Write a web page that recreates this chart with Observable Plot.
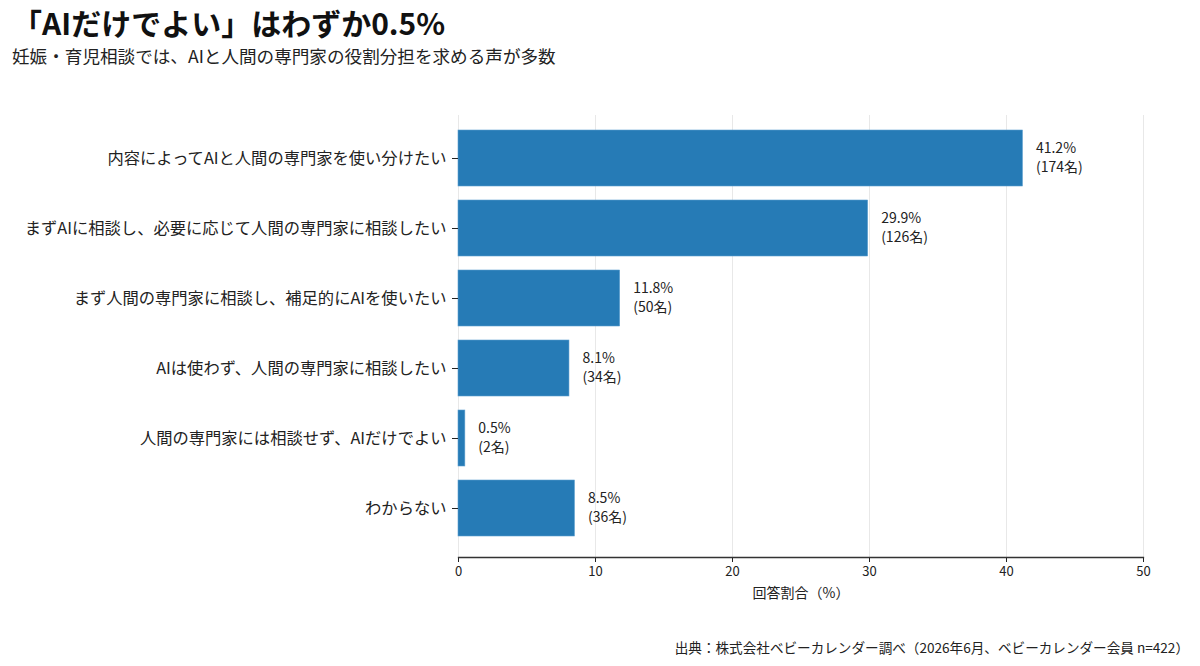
<!DOCTYPE html>
<html><head><meta charset="utf-8">
<script src="https://cdn.jsdelivr.net/npm/d3@7"></script>
<script src="https://cdn.jsdelivr.net/npm/@observablehq/plot@0.6"></script>
<style>
body{margin:0;background:#fff;font-family:"Noto Sans CJK JP","Noto Sans",sans-serif;color:#111;}
#wrap{position:relative;width:1200px;height:666px;}
#title{position:absolute;left:12px;top:1px;font-size:30px;font-weight:700;line-height:42px;}
#sub{position:absolute;left:12px;top:43px;font-size:17.6px;line-height:26px;color:#222;}
#chart{position:absolute;left:0;top:80px;}
#cap{position:absolute;right:11px;top:637px;font-size:13.6px;line-height:20px;color:#222;}
</style></head>
<body><div id="wrap">
<div id="title">「AIだけでよい」はわずか0.5%</div>
<div id="sub">妊娠・育児相談では、AIと人間の専門家の役割分担を求める声が多数</div>
<div id="chart"></div>
<div id="cap">出典：株式会社ベビーカレンダー調べ（2026年6月、ベビーカレンダー会員 n=422）</div>
</div>
<script>
const categories = [
  "内容によってAIと人間の専門家を使い分けたい",
  "まずAIに相談し、必要に応じて人間の専門家に相談したい",
  "まず人間の専門家に相談し、補足的にAIを使いたい",
  "AIは使わず、人間の専門家に相談したい",
  "人間の専門家には相談せず、AIだけでよい",
  "わからない"
];
const percents = [41.2, 29.9, 11.8, 8.1, 0.5, 8.5];
const counts = [174, 126, 50, 34, 2, 36];
const xTicks = [0, 10, 20, 30, 40, 50];

const data = categories.map((c, i) => ({category: c, pct: percents[i], n: counts[i]}));

const chart = Plot.plot({
  width: 1200, height: 530,
  marginLeft: 458, marginRight: 57, marginTop: 35, marginBottom: 53,
  style: {fontFamily: "'Noto Sans CJK JP','Noto Sans',sans-serif", fontSize: "13px", color: "#222", background: "#fff"},
  x: {domain: [0, 50]},
  y: {domain: categories, padding: 0.2, insetBottom: 6},
  marks: [
    Plot.gridX(xTicks, {stroke: "#e8e8e8", strokeOpacity: 1}),
    Plot.barX(data, {x: "pct", y: "category", fill: "#1f77b4", fillOpacity: 0.97, stroke: "#5d9fd0", strokeWidth: 0.6}),
    Plot.text(data, {x: "pct", y: "category", text: d => `${d.pct}%\n(${d.n}名)`, dx: 13, dy: -2, textAnchor: "start", lineHeight: 1.38, fontSize: 14, fill: "#222"}),
    Plot.axisX({ticks: xTicks, tickSize: 5, tickPadding: 4, fontSize: 13, label: "回答割合（%）", labelAnchor: "center", labelArrow: "none", labelOffset: 40}),
    Plot.axisY({tickSize: 6, tickPadding: 6, fontSize: 16.3, label: null}),
    Plot.frame({anchor: "bottom", stroke: "#333", strokeWidth: 1.3})
  ]
});
document.getElementById("chart").appendChild(chart);
const lab = chart.querySelector('[aria-label="x-axis label"] text');
if (lab) lab.style.fontSize = "14px";
</script>
</body></html>
